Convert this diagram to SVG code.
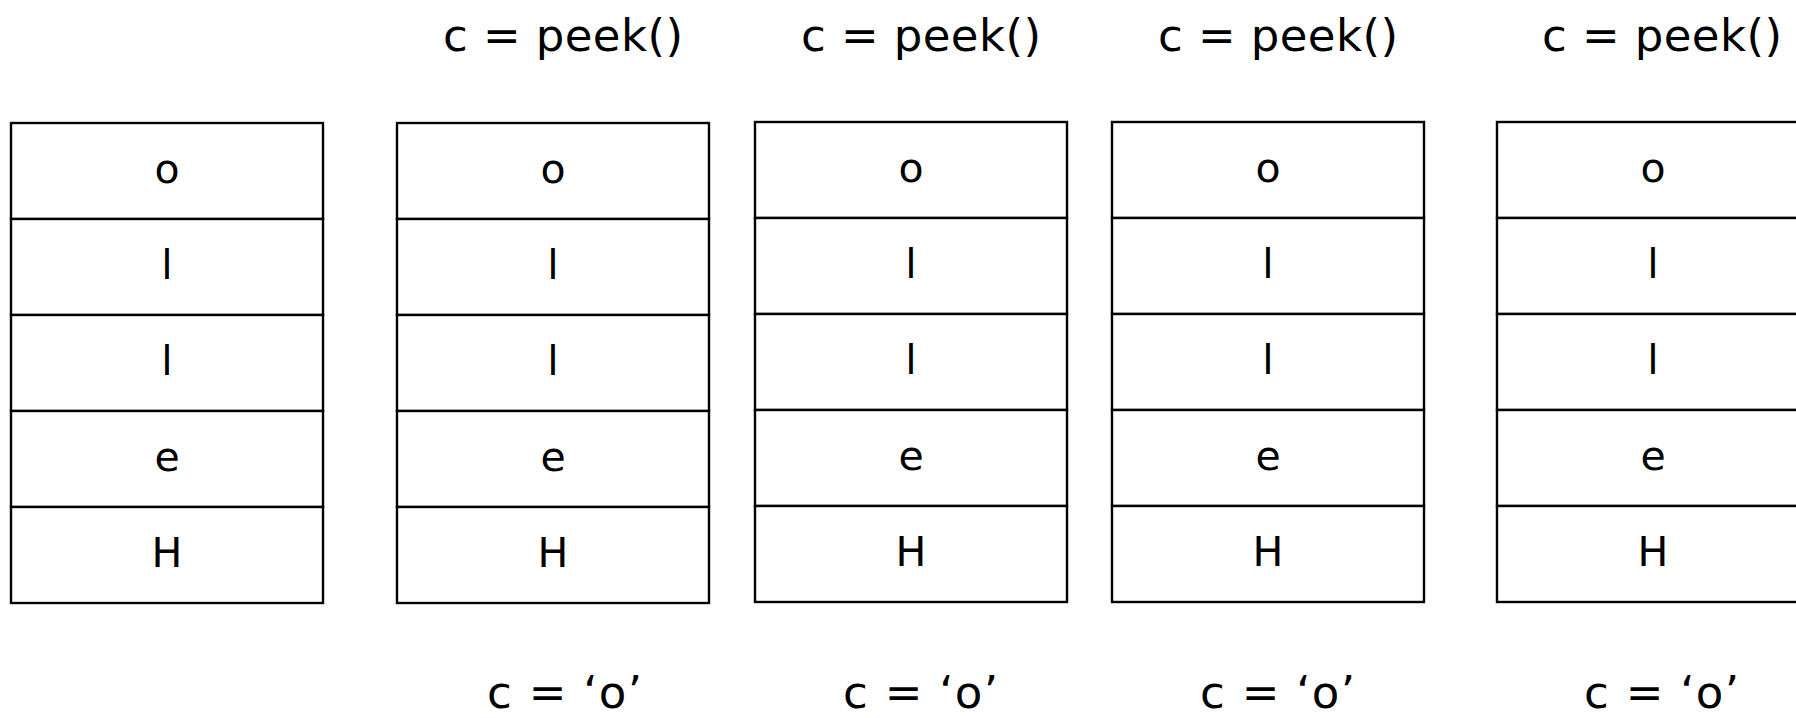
<svg xmlns="http://www.w3.org/2000/svg" xmlns:xlink="http://www.w3.org/1999/xlink" width="1796" height="718" viewBox="0 0 1796 718">
  <style>
    .cell { fill: #ffffff; stroke: #000000; stroke-width: 2.4; }
    .ch { font-family: "DejaVu Sans", "Liberation Sans", sans-serif; font-size: 41px; fill: #000000; text-anchor: middle; }
    .lbl { font-family: "DejaVu Sans", "Liberation Sans", sans-serif; font-size: 45px; fill: #000000; }
  </style>
  <defs>
    <!-- one stack: five stacked cells holding "Hello" with 'o' on top -->
    <g id="stack-cells">
      <rect class="cell" x="0" y="0" width="312" height="96"/>
      <rect class="cell" x="0" y="96" width="312" height="96"/>
      <rect class="cell" x="0" y="192" width="312" height="96"/>
      <rect class="cell" x="0" y="288" width="312" height="96"/>
      <rect class="cell" x="0" y="384" width="312" height="96"/>
      <text class="ch" x="156" y="60">o</text>
      <text class="ch" x="156" y="156">l</text>
      <text class="ch" x="156" y="252">l</text>
      <text class="ch" x="156" y="348">e</text>
      <text class="ch" x="156" y="444">H</text>
    </g>
  </defs>
  <rect width="1796" height="718" fill="#ffffff"/>

  <g id="stack-0">
    <use xlink:href="#stack-cells" href="#stack-cells" transform="translate(11,123)"/>
  </g>

  <g id="stack-1">
    <text class="lbl" x="443" y="51" textLength="240" lengthAdjust="spacing">c = peek()</text>
    <use xlink:href="#stack-cells" href="#stack-cells" transform="translate(397,123)"/>
    <text class="lbl" x="487" y="708" textLength="155" lengthAdjust="spacing">c = ‘o’</text>
  </g>

  <g id="stack-2">
    <text class="lbl" x="801" y="51" textLength="240" lengthAdjust="spacing">c = peek()</text>
    <use xlink:href="#stack-cells" href="#stack-cells" transform="translate(755,122)"/>
    <text class="lbl" x="843" y="708" textLength="155" lengthAdjust="spacing">c = ‘o’</text>
  </g>

  <g id="stack-3">
    <text class="lbl" x="1158" y="51" textLength="240" lengthAdjust="spacing">c = peek()</text>
    <use xlink:href="#stack-cells" href="#stack-cells" transform="translate(1112,122)"/>
    <text class="lbl" x="1200" y="708" textLength="155" lengthAdjust="spacing">c = ‘o’</text>
  </g>

  <g id="stack-4">
    <text class="lbl" x="1542" y="51" textLength="240" lengthAdjust="spacing">c = peek()</text>
    <use xlink:href="#stack-cells" href="#stack-cells" transform="translate(1497,122)"/>
    <text class="lbl" x="1584" y="708" textLength="155" lengthAdjust="spacing">c = ‘o’</text>
  </g>
</svg>
